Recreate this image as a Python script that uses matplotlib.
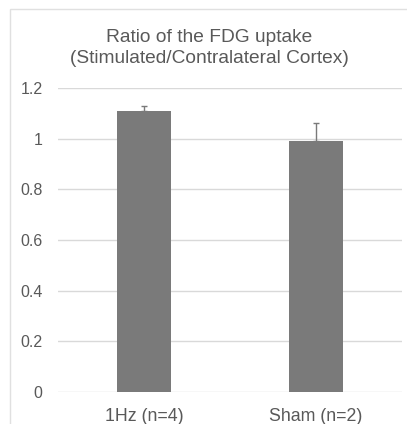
import matplotlib
matplotlib.use("Agg")
import matplotlib.pyplot as plt
from matplotlib.patches import Rectangle

categories = ["1Hz (n=4)", "Sham (n=2)"]
values = [1.11, 0.99]
errors = [0.02, 0.07]
yticks = [0, 0.2, 0.4, 0.6, 0.8, 1.0, 1.2]
ytick_labels = ["0", "0.2", "0.4", "0.6", "0.8", "1", "1.2"]
title = "Ratio of the FDG uptake\n(Stimulated/Contralateral Cortex)"

plt.rcParams['font.family'] = ['Liberation Sans', 'DejaVu Sans']
text_color = "#595959"
bar_color = "#7a7a7a"
grid_color = "#d9d9d9"

W, H = 407, 424
fig = plt.figure(figsize=(W / 100, H / 100), dpi=100)
fig.patch.set_facecolor("white")

# chart area border
fig.patches.append(Rectangle((10 / W, -0.1), 1.2, (H - 9) / H + 0.1, transform=fig.transFigure,
                             fill=False, edgecolor="#e0e0e0", linewidth=1.0))

ax = fig.add_axes([58 / W, 32 / H, 344 / W, (392 - 88) / H])
x = list(range(len(categories)))
ax.bar(x, values, width=0.31, color=bar_color, zorder=3)
ax.errorbar(x, values, yerr=[[0, 0], errors], fmt="none", ecolor=bar_color,
            elinewidth=1.0, capsize=2.5, capthick=1.0, zorder=4)

ax.set_xlim(-0.5, 1.5)
ax.set_ylim(0, 1.2)
ax.set_yticks(yticks)
ax.set_yticklabels(ytick_labels)
ax.set_xticks(x)
ax.set_xticklabels(categories)
ax.yaxis.grid(True, color=grid_color, linewidth=1.0, zorder=0)
ax.set_axisbelow(True)
for s in ax.spines.values():
    s.set_visible(False)
ax.tick_params(axis="both", length=0, colors=text_color, labelsize=11.5)
ax.tick_params(axis="y", pad=11)
ax.tick_params(axis="x", pad=11.5, labelsize=12.8)

fig.text(209 / W, 1 - 48 / H, title, ha="center", va="center", fontsize=13.8,
         color=text_color, linespacing=1.33)

fig.savefig("out.png", dpi=100)
